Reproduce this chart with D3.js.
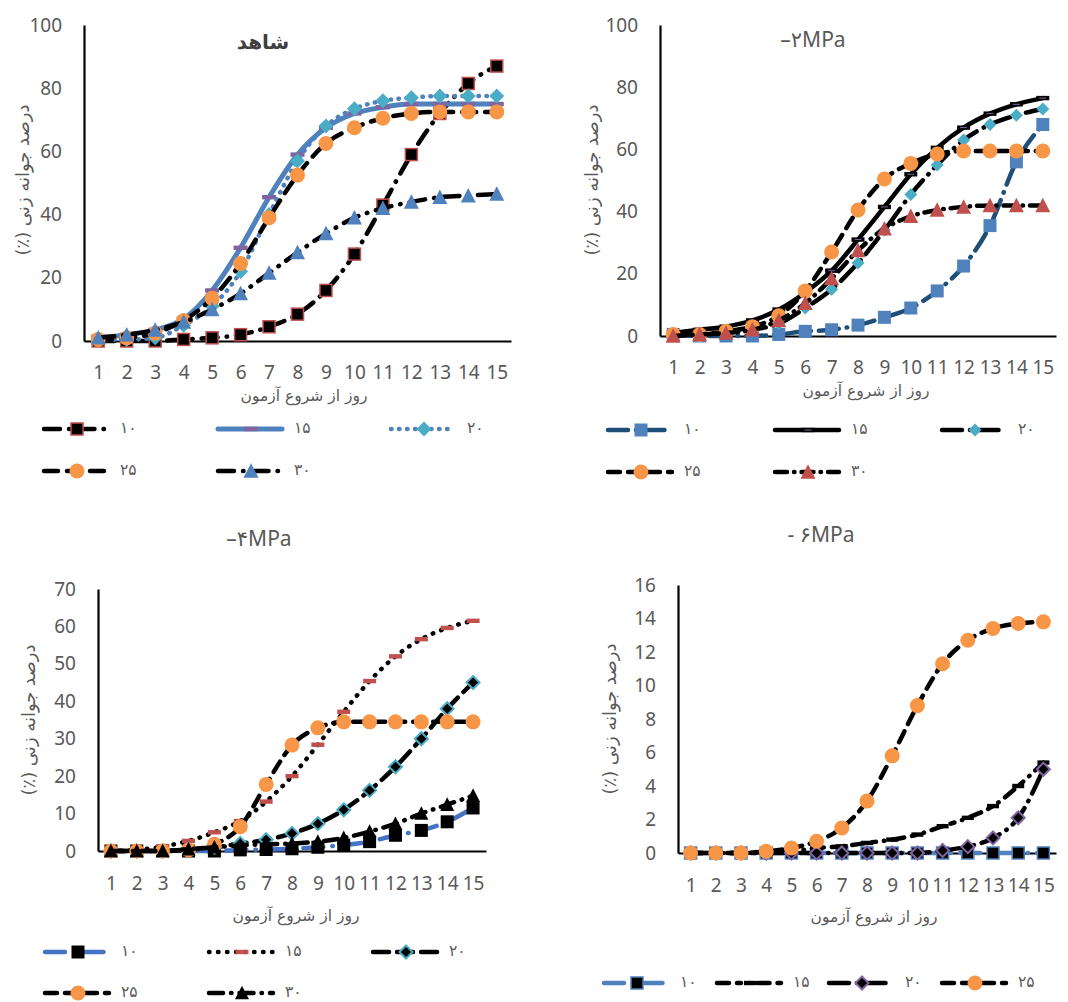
<!DOCTYPE html>
<html><head><meta charset="utf-8">
<script src="https://cdn.jsdelivr.net/npm/d3@7"></script>
<style>body{margin:0;background:#fff}</style>
</head><body>
<svg id="c" width="1068" height="1002" xmlns="http://www.w3.org/2000/svg"></svg>
<script>
// ---------- data ----------
const days = [1,2,3,4,5,6,7,8,9,10,11,12,13,14,15];
const seriesNames = ["۱۰","۱۵","۲۰","۲۵","۳۰"];
const panelTitles = ["شاهد","–۲MPa","–۴MPa","- ۶MPa"];
const xAxisTitle = "روز از شروع آزمون";
const yAxisTitle = "درصد جوانه زنی (٪)";
const yTicksA = [0,20,40,60,80,100];
const yTicksC = [0,10,20,30,40,50,60,70];
const yTicksD = [0,2,4,6,8,10,12,14,16];

// control (شاهد)
const ctrl10 = [0,0,0,0.5,1,2,4.5,8.5,16,27.5,43,59,72,81.5,87];
const ctrl15 = [1,2,3.5,7,16,29.5,45.5,59,67.5,72,74,75,75,75,75];
const ctrl20 = [0.5,0.5,1,5,11,22,40,57,68,73.5,76,77,77.5,77.5,77.5];
const ctrl25 = [0.5,1,2.5,6.5,13.5,24.5,39,52.5,62.5,67.5,70.5,72,72.5,72.5,72.5];
const ctrl30 = [1,2,3.5,6,10,15,21.5,28,34,39,42,44,45.5,46,46.5];
// -2 MPa
const m2_10 = [0.5,0,0,0,0.5,1.5,2,3.5,6,9,14.5,22.5,35.5,56,68];
const m2_15 = [1,2,3,5,8.5,14,21,31,41.5,52,60.5,67,71.5,74.5,76.5];
const m2_20 = [0.5,0.5,1,2,4,9,15,23.5,34,45.5,55,63,68,71,73];
const m2_25 = [0.5,0.5,1.5,3,6.5,14.5,27,40.5,50.5,55.5,58.5,59.5,59.5,59.5,59.5];
const m2_30 = [0,0.5,1,2,5,10.5,18.5,27.5,34.5,38.5,40.5,41.5,42,42,42];
// -4 MPa
const m4_10 = [0,0,0,0,0,0.3,0.4,0.6,1,1.6,2.5,4.2,5.5,7.8,11.5];
const m4_15 = [0,0.3,1.2,2.7,5,8,13.2,20,28.4,37.2,45.4,52,56.6,59.6,61.5];
const m4_20 = [0,0,0,0.5,1,2,3,4.7,7.3,11,16.2,22.5,30,38,45];
const m4_25 = [0,0,0,0.3,1.8,6.5,17.8,28.3,32.9,34.5,34.5,34.5,34.5,34.5,34.5];
const m4_30 = [0,0,0,0.5,1,1.5,1.8,2,2.5,3.5,5.2,7.3,10,12.4,14.8];
// -6 MPa
const m6_10 = [0,0,0,0,0,0,0,0,0,0,0,0,0,0,0];
const m6_15 = [0,0,0,0,0.1,0.3,0.4,0.6,0.8,1.1,1.6,2.1,2.8,4,5.4];
const m6_20 = [0,0,0,0,0,0,0,0,0,0,0.15,0.38,0.9,2.1,5];
const m6_25 = [0,0,0,0.1,0.3,0.7,1.5,3.1,5.8,8.8,11.3,12.7,13.4,13.7,13.8];

// ---------- styles ----------
const BLUE = "#4F81BD", DBLUE = "#1F4E79", TEAL = "#4BACC6", ORANGE = "#F79646",
      RED = "#C0504D", PURPLE = "#8064A2", TXT = "#595959";
const FNUM = "'Noto Sans','DejaVu Sans',sans-serif";
const FFA = "'DejaVu Sans',sans-serif";

const panels = [
  { x0:84, x1:511, yTop:25, yBot:341, yMax:100, ticks:yTicksA,
    title:{x:263,y:49,size:20,bold:true,font:FFA}, xt:{x:304,y:401}, tickBase:379, yt:{x:22,y:180},
    legend:[[44,429],[218,429],[391,429],[44,471],[218,471]],
    series:[
      {v:ctrl10, c:"#000", d:"16 9 0.5 9", m:{t:"square",s:12,f:"#000",st:RED,sw:1.5}},
      {v:ctrl15, c:BLUE, d:null, w:5, m:{t:"dash",s:14,f:PURPLE}},
      {v:ctrl20, c:BLUE, d:"0.5 7.5", m:{t:"diamond",s:15,f:TEAL}},
      {v:ctrl25, c:"#000", d:"14 9", m:{t:"circle",s:15,f:ORANGE}},
      {v:ctrl30, c:"#000", d:"16 9 0.5 9", m:{t:"triangle",s:15,f:BLUE}}
    ]},
  { x0:660, x1:1056, yTop:25, yBot:336, yMax:100, ticks:yTicksA,
    title:{x:813,y:47,size:21,bold:false,font:FNUM}, xt:{x:866,y:396}, tickBase:374, yt:{x:591,y:180},
    legend:[[608,430],[775,430],[942,430],[608,472],[775,472]],
    series:[
      {v:m2_10, c:DBLUE, d:"20 8 0.5 8", m:{t:"square",s:13,f:BLUE}},
      {v:m2_15, c:"#000", d:null, m:{t:"dash",s:13,f:"#000",inner:PURPLE}},
      {v:m2_20, c:"#000", d:"20 8 0.5 8", m:{t:"diamond",s:13,f:TEAL}},
      {v:m2_25, c:"#000", d:"12 8", m:{t:"circle",s:15,f:ORANGE}},
      {v:m2_30, c:"#000", d:"12 7 0.5 7", m:{t:"triangle",s:15,f:RED}}
    ]},
  { x0:98, x1:486, yTop:589, yBot:851, yMax:70, ticks:yTicksC,
    title:{x:259,y:546,size:21,bold:false,font:FNUM}, xt:{x:296,y:921}, tickBase:890, yt:{x:28,y:720},
    legend:[[45,952],[209,952],[373,952],[45,993],[209,993]],
    series:[
      {v:m4_10, c:"#4472C4", d:"20 9 0.5 9", m:{t:"square",s:13,f:"#000"}},
      {v:m4_15, c:"#000", d:"0.5 8.5", m:{t:"dash",s:13,f:RED}},
      {v:m4_20, c:"#000", d:"16 8", m:{t:"diamond",s:13,f:"#000",st:TEAL,sw:2}},
      {v:m4_25, c:"#000", d:"12 8", m:{t:"circle",s:15,f:ORANGE}},
      {v:m4_30, c:"#000", d:"14 8 0.5 8", m:{t:"triangle",s:14,f:"#000"}}
    ]},
  { x0:678, x1:1056, yTop:585, yBot:853, yMax:16, ticks:yTicksD,
    title:{x:821,y:542,size:21,bold:false,font:FNUM}, xt:{x:874,y:922}, tickBase:892, yt:{x:609,y:719},
    legend:[[604,983],[717,983],[829,983],[942,983]],
    series:[
      {v:m6_10, c:BLUE, d:"20 9 0.5 9", m:{t:"square",s:12,f:"#000",st:BLUE,sw:1.5}},
      {v:m6_15, c:"#000", d:"12 8 4 8 0.5 8", m:{t:"dash",s:12,f:"#000"}},
      {v:m6_20, c:"#000", d:"20 8 0.5 8", m:{t:"diamond",s:13,f:"#000",st:PURPLE,sw:2}},
      {v:m6_25, c:"#000", d:"12 8", m:{t:"circle",s:15,f:ORANGE}}
    ]}
];

const svg = d3.select("#c");

function marker(g, m, x, y) {
  const s = m.s;
  let el;
  if (m.t === "square") {
    el = g.append("rect").attr("x", x - s/2).attr("y", y - s/2).attr("width", s).attr("height", s);
  } else if (m.t === "circle") {
    el = g.append("circle").attr("cx", x).attr("cy", y).attr("r", s/2);
  } else if (m.t === "triangle") {
    const h = s * 0.9;
    el = g.append("path").attr("d", `M${x},${y-h/2-1}L${x+s/2},${y+h/2}L${x-s/2},${y+h/2}Z`);
  } else if (m.t === "diamond") {
    const r = s/2;
    el = g.append("path").attr("d", `M${x},${y-r}L${x+r},${y}L${x},${y+r}L${x-r},${y}Z`);
  } else if (m.t === "dash") {
    el = g.append("rect").attr("x", x - s/2).attr("y", y - 2.2).attr("width", s).attr("height", 4.4);
  }
  el.attr("fill", m.f);
  if (m.st) el.attr("stroke", m.st).attr("stroke-width", m.sw || 1.5);
  if (m.inner) g.append("line").attr("x1", x - s/2 + 3).attr("x2", x + s/2 - 3)
      .attr("y1", y).attr("y2", y).attr("stroke", m.inner).attr("stroke-width", 1);
}

panels.forEach((p, pi) => {
  const g = svg.append("g");
  const x = d3.scalePoint().domain(days).range([p.x0, p.x1]).padding(0.5);
  const y = d3.scaleLinear().domain([0, p.yMax]).range([p.yBot, p.yTop]);

  // y axis
  const ya = g.append("g").attr("transform", `translate(${p.x0},0)`)
    .call(d3.axisLeft(y).tickValues(p.ticks).tickSize(0).tickPadding(22));
  ya.select(".domain").attr("stroke", "#000").attr("stroke-width", 2.2);
  ya.selectAll("text").attr("fill", TXT).style("font-family", FNUM).style("font-size", "19px");

  // x axis
  const xa = g.append("g").attr("transform", `translate(0,${p.yBot})`)
    .call(d3.axisBottom(x).tickSize(0).tickSizeOuter(0));
  xa.select(".domain").attr("stroke", "#000").attr("stroke-width", 2.2);
  xa.selectAll("text").attr("y", 0).attr("dy", null)
    .attr("transform", `translate(0,${p.tickBase - p.yBot})`)
    .attr("fill", TXT).style("font-family", FNUM).style("font-size", "19px");

  // series
  p.series.forEach((s) => {
    const line = d3.line().x((d, i) => x(days[i])).y(d => y(d)).curve(d3.curveMonotoneX);
    g.append("path").attr("d", line(s.v)).attr("fill", "none")
      .attr("stroke", s.c).attr("stroke-width", s.w || 4.5)
      .attr("stroke-linecap", "round").attr("stroke-linejoin", "round")
      .attr("stroke-dasharray", s.d);
    const mg = g.append("g");
    s.v.forEach((v, i) => marker(mg, s.m, x(days[i]), y(v)));
  });

  // title
  g.append("text").attr("x", p.title.x).attr("y", p.title.y).attr("text-anchor", "middle")
    .attr("fill", p.title.bold ? "#404040" : TXT)
    .style("font-family", p.title.font).style("font-size", p.title.size + "px")
    .style("font-weight", p.title.bold ? "bold" : "normal")
    .text(panelTitles[pi]);

  // axis titles
  g.append("text").attr("x", p.xt.x).attr("y", p.xt.y).attr("text-anchor", "middle")
    .attr("direction", "rtl")
    .attr("fill", TXT).style("font-family", FFA).style("font-size", "15.5px").text(xAxisTitle);
  g.append("text").attr("transform", `translate(${p.yt.x + 7},${p.yt.y}) rotate(-90)`)
    .attr("text-anchor", "middle").attr("direction", "rtl").attr("fill", TXT)
    .style("font-family", FFA).style("font-size", "18px").text(yAxisTitle);

  // legend
  p.series.forEach((s, i) => {
    const [lx, ly] = p.legend[i];
    const lg = g.append("g");
    lg.append("line").attr("x1", lx).attr("x2", lx + 64).attr("y1", ly).attr("y2", ly)
      .attr("stroke", s.c).attr("stroke-width", s.w || 4.5)
      .attr("stroke-linecap", "round").attr("stroke-dasharray", s.d);
    marker(lg, s.m, lx + 33, ly);
    lg.append("text").attr("x", lx + 76).attr("y", ly + 4)
      .attr("fill", TXT).style("font-family", FFA).style("font-size", "15.5px")
      .text(seriesNames[i]);
  });
});
</script>
</body></html>
